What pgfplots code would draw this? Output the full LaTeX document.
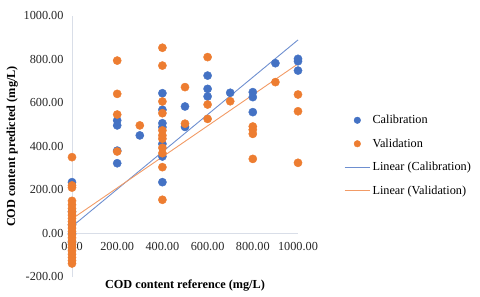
\documentclass[border=0pt]{standalone}
\usepackage{fontspec}
\setmainfont{Liberation Serif}
\usepackage{pgfplots}
\pgfplotsset{compat=1.18}
\definecolor{cal}{HTML}{4472C4}
\definecolor{val}{HTML}{ED7D31}
\definecolor{calL}{HTML}{6E8FD0}
\definecolor{valL}{HTML}{F29B66}
\definecolor{axc}{HTML}{D9DEE8}
\begin{document}
\begin{tikzpicture}
\path[use as bounding box] (0,0) rectangle (480bp,297bp);
\begin{axis}[
  at={(72bp,20bp)}, anchor=south west,
  scale only axis, width=226bp, height=261bp,
  xmin=0, xmax=1000, ymin=-200, ymax=1000,
  axis x line=middle, axis y line=left,
  axis line style={-, draw=axc, line width=0.9bp},
  xtick={0,200,...,1000}, ytick={-200,0,...,1000},
  hide obscured x ticks=false, hide obscured y ticks=false,
  major tick length=0,
  clip=false,
  /pgf/number format/.cd, fixed, fixed zerofill, precision=2, 1000 sep={}, assume math mode=true,
  /pgfplots/.cd,
  tick label style={font=\fontsize{12.3}{14}\selectfont, text=black!85},
  yticklabel style={xshift=-5bp},
  xticklabel style={yshift=-5bp},
  xlabel={\textbf{COD content reference (mg/L)}},
  ylabel={\textbf{COD content predicted (mg/L)}},
  label style={font=\fontsize{12.3}{14}\selectfont},
  xlabel style={at={(axis description cs:0.5,0)}, anchor=center, yshift=-9bp},
  ylabel style={at={(axis description cs:-0.265,0.5)}, anchor=center},
  legend style={draw=none, fill=none, at={(axis description cs:1.19,0.4655)}, anchor=west,
    font=\fontsize{12.3}{14}\selectfont, row sep=9.5bp},
  legend cell align=left,
]
\addplot[only marks, mark=*, mark size=4.1bp, draw=cal, fill=cal,
  legend image code/.code={\fill[cal] (0.45cm,0cm) circle (3.3bp);}]
coordinates {
(0,236) (0,40) (0,0) (0,-40) (0,100)
(200,520) (200,497) (200,381) (200,323)
(300,451)
(400,645) (400,569) (400,507) (400,489) (400,412) (400,354) (400,236)
(500,584) (500,490)
(600,726) (600,665) (600,630)
(700,647)
(800,650) (800,627) (800,558)
(900,783)
(1000,803) (1000,792) (1000,749)
};
\addlegendentry{Calibration}
\addplot[only marks, mark=*, mark size=4.1bp, draw=val, fill=val,
  legend image code/.code={\fill[val] (0.45cm,0cm) circle (3.3bp);}]
coordinates {
(0,351) (0,221) (0,211) (0,150) (0,132) (0,115) (0,100) (0,85) (0,70) (0,55) (0,40)
(0,25) (0,10) (0,-5) (0,-20) (0,-35) (0,-50) (0,-65) (0,-80) (0,-95) (0,-110) (0,-125) (0,-138)
(200,795) (200,642) (200,547) (200,377)
(300,497)
(400,854) (400,772) (400,607) (400,553) (400,474) (400,451) (400,436) (400,394) (400,369) (400,305) (400,155)
(500,673) (500,505)
(600,811) (600,593) (600,527)
(700,608)
(800,492) (800,477) (800,458) (800,343)
(900,696)
(1000,639) (1000,562) (1000,325)
};
\addlegendentry{Validation}
\addplot[calL, line width=0.9bp,
  legend image code/.code={\draw[calL, line width=0.9bp] (0cm,0cm) -- (0.9cm,0cm);}]
coordinates {(0,32) (1000,890)};
\addlegendentry{Linear (Calibration)}
\addplot[valL, line width=0.9bp,
  legend image code/.code={\draw[valL, line width=0.9bp] (0cm,0cm) -- (0.9cm,0cm);}]
coordinates {(0,67) (1000,780)};
\addlegendentry{Linear (Validation)}
\end{axis}
\end{tikzpicture}
\end{document}
